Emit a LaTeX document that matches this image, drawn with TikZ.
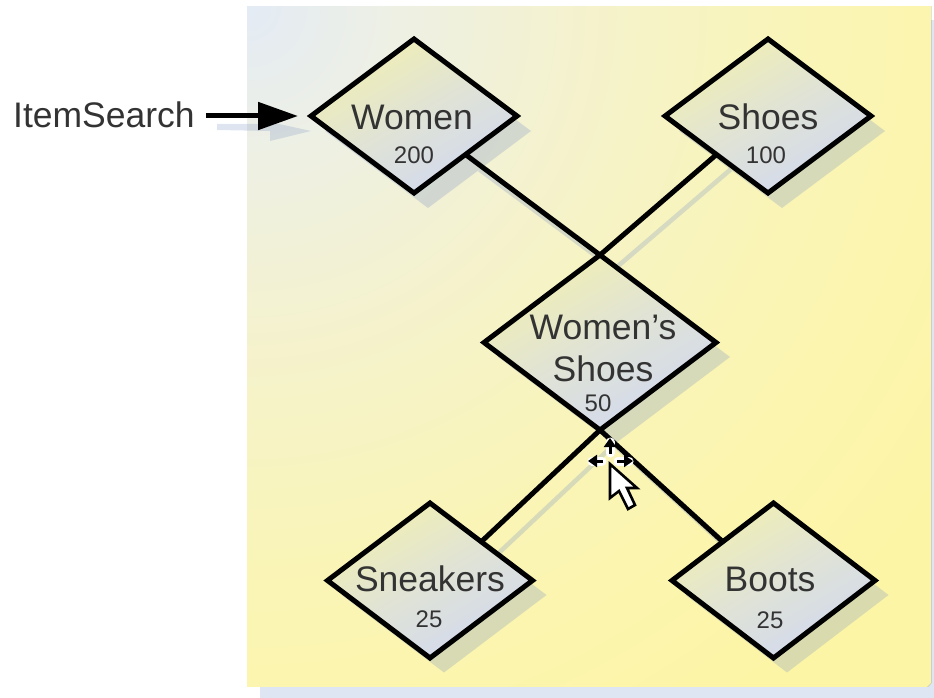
\documentclass[tikz,border=0pt]{standalone}
\usepackage{fontspec}
\setmainfont{Liberation Sans}
\usetikzlibrary{shapes.geometric,arrows.meta}
\definecolor{inkc}{HTML}{333333}
\definecolor{dtop}{HTML}{F1EFB4}
\definecolor{dbot}{HTML}{D2D9F0}
\definecolor{shadowc}{HTML}{7F97C4}
\definecolor{bandc}{HTML}{DFE6F3}
\pgfdeclareradialshading{panelshade}{\pgfpoint{0bp}{0bp}}{%
  rgb(0bp)=(0.89,0.92,0.96);
  rgb(3.5bp)=(0.93,0.94,0.90);
  rgb(9bp)=(0.96,0.95,0.80);
  rgb(15bp)=(0.98,0.96,0.71);
  rgb(22bp)=(0.99,0.96,0.65);
  rgb(50bp)=(0.99,0.96,0.65)}
\tikzset{
  dia/.style={diamond,aspect=1.33,inner sep=0pt,outer sep=0pt,draw=black,line width=5pt,line join=miter,
    top color=dtop,bottom color=dbot,middle color=dtop!45!dbot,shading angle=30},
  diashadow/.style={fill=shadowc,fill opacity=.28,draw=none,diamond,aspect=1.33,inner sep=0pt,outer sep=0pt},
  link/.style={draw=black,line width=5pt},
  linkshadow/.style={draw=shadowc,draw opacity=.28,line width=4.6pt},
  big/.style={font=\fontsize{35.5}{35.5}\selectfont,text=inkc,inner sep=0pt},
  small/.style={font=\fontsize{24}{24}\selectfont,text=inkc,inner sep=0pt},
  curs/.style={fill=white,draw=black,line width=2.6pt,line join=miter},
  movearrow/.style={draw=black,line width=3pt,-{Triangle[length=9pt,width=12pt]}},
  movehalo/.style={draw=white,line width=9pt,line cap=round}
}
\begin{document}
\begin{tikzpicture}[x=1pt,y=-1pt]
\useasboundingbox (0,0) rectangle (934,698);
% panel
\fill[bandc] (260,20) rectangle (934,698);
\begin{scope}
\clip (247,7) rectangle (931,686);
\fill[shading=panelshade] (247,7) circle (962pt);
\end{scope}
% shadows
\node[diashadow,minimum width=206pt,minimum height=154pt] (s1) at (428,131) {};
\node[diashadow,minimum width=206pt,minimum height=154pt] (s2) at (782,131) {};
\node[diashadow,minimum width=232pt,minimum height=175pt] (s3) at (614,357) {};
\node[diashadow,minimum width=205pt,minimum height=155pt] (s4) at (444,595) {};
\node[diashadow,minimum width=203pt,minimum height=155pt] (s5) at (787,595) {};
\draw[linkshadow] (s2.south west) -- (s3.north);
\draw[linkshadow] (s1.south east) -- (s3.north);
\draw[linkshadow] (s3.south) -- (s4.north east);
\draw[linkshadow] (s3.south) -- (s5.north west);
% arrow shadow
\fill[shadowc,opacity=.25] (217,124) -- (270,124) -- (270,122) -- (311,131) -- (270,141) -- (270,131) -- (217,130) -- cycle;
% diamonds and connectors
\node[dia,minimum width=206pt,minimum height=154pt] (women) at (414,116) {};
\node[dia,minimum width=206pt,minimum height=154pt] (shoes) at (768,116) {};
\node[dia,minimum width=232pt,minimum height=175pt] (wshoes) at (600,342.5) {};
\node[dia,minimum width=205pt,minimum height=155pt] (sneakers) at (430,580.5) {};
\node[dia,minimum width=203pt,minimum height=155pt] (boots) at (773.5,580.5) {};
\draw[link] (women.south east) -- (wshoes.north);
\draw[link] (shoes.south west) -- (wshoes.north);
\draw[link] (wshoes.south) -- (sneakers.north east);
\draw[link] (wshoes.south) -- (boots.north west);
% text
\node[big,anchor=west] (item) at (13,115) {ItemSearch};
\draw[draw=black,line width=5pt,-{Triangle[length=40pt,width=27pt]},shorten <=11pt,shorten >=13pt] (item.east |- women.west) -- (women.west);
\node[big] (t1) at (412,117) {Women};
\node[small] (n1) at (414,155) {200};
\node[big] (t2) at (768,117) {Shoes};
\node[small] (n2) at (766,155) {100};
\node[big] (t3) at (603,327) {Women's};
\node[big] (t3b) at (603,369) {Shoes};
\node[small] (n3) at (598,403) {50};
\node[big] (t4) at (430,579) {Sneakers};
\node[small] (n4) at (429,619) {25};
\node[big] (t5) at (770,579) {Boots};
\node[small] (n5) at (770,620) {25};
% cursor
\draw[movehalo] (610,453) -- (610,442);
\draw[movehalo] (602,461) -- (592,461);
\draw[movehalo] (618,461) -- (629,461);
\draw[movearrow] (610,454) -- (610,438);
\draw[movearrow] (603,461) -- (588,461);
\draw[movearrow] (617,461) -- (633,461);
\draw[curs] (610,464) -- (610,498) -- (619,491) -- (628,509) -- (635,505) -- (627,488) -- (637,488) -- cycle;
\end{tikzpicture}
\end{document}
